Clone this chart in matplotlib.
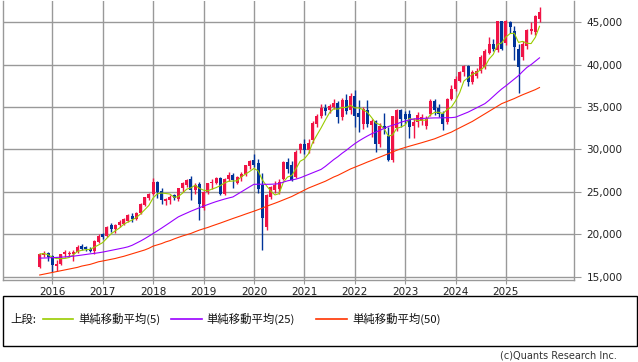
import matplotlib
matplotlib.use("Agg")
import matplotlib.pyplot as plt
from matplotlib.patches import Rectangle
from matplotlib.lines import Line2D
from matplotlib.ticker import FuncFormatter
import numpy as np
import pandas as pd

# Monthly candles, Oct 2015 .. Sep 2025
opens = [16200, 17550, 17820, 17400, 16300, 16500, 17650, 17700, 17700, 17900, 18600, 18450, 18300, 18050, 19100,
         20000, 19800, 21050, 20600, 21050, 21200, 21600, 22150, 21850, 22450, 23450, 24250,
         24800, 26150, 25100, 23900, 24000, 24600, 24150, 25400, 25800, 26550, 25200, 25950,
         23050, 24980, 26000, 26050, 26670, 24720, 26560, 27000, 26100, 26700, 27150, 28000,
         28700, 28400, 25770, 20900, 24400, 25200, 25380, 26560, 28510, 28120, 26750, 29880,
         30660, 29880, 31060, 33010, 34000, 34900, 34600, 35000, 35450, 33850, 35850, 34600,
         36350, 34300, 33000, 34600, 32900, 33300, 30700, 32800, 31600, 28700, 32500, 34700,
         34200, 34200, 32800, 33200, 33400, 32800, 34200, 35750, 34850, 34200, 33200, 35950,
         37150, 38100, 39100, 39850, 37900, 38700, 39300, 39700, 41400, 42400, 41750, 45100,
         42600, 45000, 44000, 41800, 40850, 42200, 44000, 43800, 45350]
highs = [17750, 18000, 17950, 17500, 16950, 17700, 18100, 18000, 18100, 18700, 18800, 18650, 18550, 19350, 20000,
         20200, 20950, 21300, 21200, 21650, 21950, 22400, 22550, 22650, 23650, 24450, 24900,
         26600, 26300, 25400, 24300, 24600, 24800, 25500, 26150, 26500, 26900, 26000, 26200,
         25050, 26100, 26500, 26750, 26800, 26650, 27300, 27200, 26900, 27300, 28200, 28800,
         29500, 28900, 27200, 24800, 25700, 26300, 26500, 28600, 29000, 28600, 29900, 30800,
         31200, 31200, 33400, 34200, 35300, 35300, 35400, 35900, 35700, 36100, 36500, 36700,
         37000, 35800, 35000, 35800, 33600, 33500, 33100, 34300, 32600, 34000, 34800, 34800,
         34500, 34600, 33700, 34400, 34200, 34000, 35900, 35900, 35300, 34500, 36100, 37600,
         38600, 39300, 40000, 40000, 39400, 39600, 41100, 41800, 43300, 43000, 45200, 45200,
         45300, 45200, 44600, 42400, 42800, 44200, 45000, 45900, 46800]
lows = [16000, 17350, 16900, 15600, 15700, 16400, 17300, 17400, 16900, 17800, 18100, 18000, 17900, 17700, 18950,
        19500, 19700, 20300, 20200, 20900, 21100, 21500, 21500, 21700, 22400, 23300, 24050,
        24600, 24300, 23550, 23500, 23600, 24000, 23900, 25000, 25600, 24000, 24800, 21650,
        22900, 24700, 25300, 25900, 24600, 24600, 26300, 25500, 25900, 26300, 26900, 27700,
        27900, 24900, 18150, 20500, 24100, 24900, 24800, 26400, 27200, 26300, 26600, 29600,
        29500, 29600, 30800, 32700, 33700, 34100, 34300, 34800, 33100, 33500, 34200, 34200,
        32700, 32000, 32400, 32700, 31500, 29700, 30300, 31800, 28600, 28500, 32200, 32600,
        33000, 31400, 31300, 32700, 32900, 32400, 33900, 34100, 33800, 32300, 33000, 35800,
        36900, 37900, 38700, 37500, 37700, 38400, 39000, 39500, 41200, 41600, 41500, 41700,
        42300, 43700, 40500, 36700, 40500, 41800, 43600, 43500, 45000]
closes = [17650, 17820, 17300, 16400, 16500, 17650, 17900, 17850, 17950, 18550, 18300, 18250, 18050, 19250, 19850,
          19700, 20850, 20600, 21050, 21500, 21850, 22250, 21750, 22550, 23550, 24350, 24800,
          26150, 25000, 24000, 24100, 24450, 24250, 25400, 26050, 26450, 25200, 25800, 23600,
          24980, 26040, 26200, 26670, 24800, 26560, 27000, 26360, 26800, 27150, 28120, 28630,
          28120, 25380, 21860, 24600, 25570, 25770, 26160, 28510, 27730, 26440, 29680, 30660,
          29900, 30760, 33150, 34000, 34900, 34500, 35100, 35500, 33800, 35850, 34500, 36350,
          34000, 33800, 34800, 33000, 33300, 30700, 32800, 32400, 28700, 33900, 34600, 33600,
          33600, 32600, 33200, 34050, 33800, 33600, 35750, 34600, 34200, 33000, 35950, 37150,
          38300, 39100, 39850, 37900, 39100, 39300, 40850, 41650, 42400, 41850, 45100, 41800,
          45150, 44400, 42050, 39700, 42400, 44050, 44200, 45700, 46250]

ma25 = [17190, 17200, 17220, 17250, 17270, 17300, 17330, 17380, 17420, 17480, 17550,
        17620, 17690, 17750, 17820,
        17900, 18000, 18100, 18200, 18300, 18400, 18520,
        18700, 18950, 19200, 19480, 19780, 20090,
        20400, 20720, 21050, 21380, 21720, 22050,
        22280, 22500, 22720, 22920, 23120, 23320,
        23500, 23680, 23850, 24000, 24150, 24280, 24400,
        24700, 25000, 25300, 25600, 25890,
        25900, 25900, 25890, 25900, 25920, 25970,
        26150, 26300, 26400, 26500, 26650,
        26850, 27050, 27250, 27450, 27650,
        28000, 28400, 28800, 29150, 29550, 29900, 30300, 30670,
        31000, 31300, 31580, 31840,
        32050, 32250, 32480, 32700,
        32850, 33000, 33210, 33350, 33480, 33600,
        33620, 33650, 33680, 33700, 33720, 33720, 33730, 33740, 33750, 33800,
        34000, 34200, 34400, 34650, 34900, 35150, 35400,
        35800, 36250, 36700, 37130,
        37500, 37900, 38300, 38700,
        39200, 39670, 40000, 40400, 40800]
ma50 = [15200, 15300, 15400, 15500, 15600, 15700, 15800, 15900, 16000, 16100, 16250, 16350, 16450, 16600, 16760,
        16850, 16950, 17050, 17150, 17280, 17400, 17550,
        17700, 17850, 18000, 18150, 18350, 18600,
        18750, 18900, 19100, 19250, 19450, 19630,
        19800, 19950, 20100, 20300, 20490,
        20650, 20800, 20980, 21150, 21320, 21500, 21680, 21860,
        22030, 22200, 22380, 22550, 22720, 22900, 23080, 23300,
        23480, 23660, 23850, 24050, 24250, 24450, 24700, 24950,
        25200, 25450, 25650, 25850, 26050, 26250, 26500, 26750,
        26950, 27200, 27450, 27700, 27900, 28100, 28300, 28510,
        28700, 28900, 29100, 29300, 29500, 29700, 29900, 30080,
        30230, 30380, 30520, 30660, 30800, 30950, 31100, 31250,
        31450, 31650, 31850, 32040,
        32300, 32550, 32800, 33050, 33300, 33600,
        33900, 34200, 34500, 34800, 35100, 35400,
        35600, 35800, 36000, 36230,
        36450, 36650, 36850, 37050, 37300]

year_labels = ["2016", "2017", "2018", "2019", "2020", "2021", "2022", "2023", "2024", "2025"]
year_pos = [3 + 12 * k for k in range(len(year_labels))]   # January of each year
y_ticks = [15000, 20000, 25000, 30000, 35000, 40000, 45000]
legend_labels = ["単純移動平均(5)", "単純移動平均(25)", "単純移動平均(50)"]

UP = "#f01446"
DOWN = "#003399"
C5, C25, C50 = "#99cc00", "#9900ff", "#ff3300"
GRID = "#999999"

plt.rcParams['font.family'] = ['DejaVu Sans']

W, H = 638, 362
fig = plt.figure(figsize=(W / 100, H / 100), dpi=100)
ax = fig.add_axes([3 / W, 1 - 280 / H, 571 / W, 279 / H])

o = np.array(opens, float); h = np.array(highs, float)
l = np.array(lows, float); c = np.array(closes, float)
x = np.arange(len(c))
up = c >= o
cols = np.where(up, UP, DOWN)

ax.vlines(x, l, h, colors=cols, lw=1, zorder=3)
bottoms = np.minimum(o, c)
heights = np.maximum(np.abs(c - o), 40)
ax.bar(x, heights, bottom=bottoms, width=0.72, color=cols, edgecolor=cols, lw=0, zorder=4)

ma5 = pd.Series(c).rolling(5, min_periods=1).mean().values
ax.plot(x, ma5, color=C5, lw=0.8, zorder=5)
ax.plot(x, ma25, color=C25, lw=0.8, zorder=5)
ax.plot(x, ma50, color=C50, lw=0.8, zorder=5)

ax.set_xlim((3 - 39.7) / 4.2, (574 - 39.7) / 4.2)
ax.set_ylim(14610, 47500)

ax.set_xticks(year_pos)
ax.set_xticklabels(year_labels)
ax.set_yticks(y_ticks)
ax.yaxis.set_major_formatter(FuncFormatter(lambda v, p: f"{int(v):,}"))
ax.yaxis.tick_right()
ax.grid(True, color=GRID, lw=1)
ax.set_axisbelow(True)
for s in ax.spines.values():
    s.set_color(GRID)
    s.set_linewidth(1)
ax.spines['top'].set_visible(False)
ax.tick_params(axis='y', length=5, color=GRID, pad=4, labelsize=7.5, labelcolor='#222222')
ax.tick_params(axis='x', length=3, color=GRID, pad=2, labelsize=7.5, labelcolor='#222222')

# Legend box
def fx(px): return px / W
def fy(py): return 1 - py / H
fig.patches.append(Rectangle((fx(3), fy(346)), fx(634) - fx(0), (346 - 296) / H,
                             transform=fig.transFigure, fill=False, edgecolor='black', lw=1))
jp = ['Noto Sans CJK JP', 'DejaVu Sans']
ly = 319
fig.text(fx(10), fy(ly), "上段:", fontsize=8.2, family=jp, va='center', ha='left', color='#111111')
items = [(43, 73, 78, C5), (171, 202, 206, C25), (316, 347, 352, C50)]
for (x0, x1, tx, col), lab in zip(items, legend_labels):
    fig.lines.append(Line2D([fx(x0), fx(x1)], [fy(ly), fy(ly)], transform=fig.transFigure, color=col, lw=1.2))
    fig.text(fx(tx), fy(ly), lab, fontsize=8.2, family=jp, va='center', ha='left', color='#111111')

fig.text(fx(617), fy(356), "(c)Quants Research Inc.", fontsize=7, ha='right', va='center', color='#333333')

fig.savefig("out.png", dpi=100)
